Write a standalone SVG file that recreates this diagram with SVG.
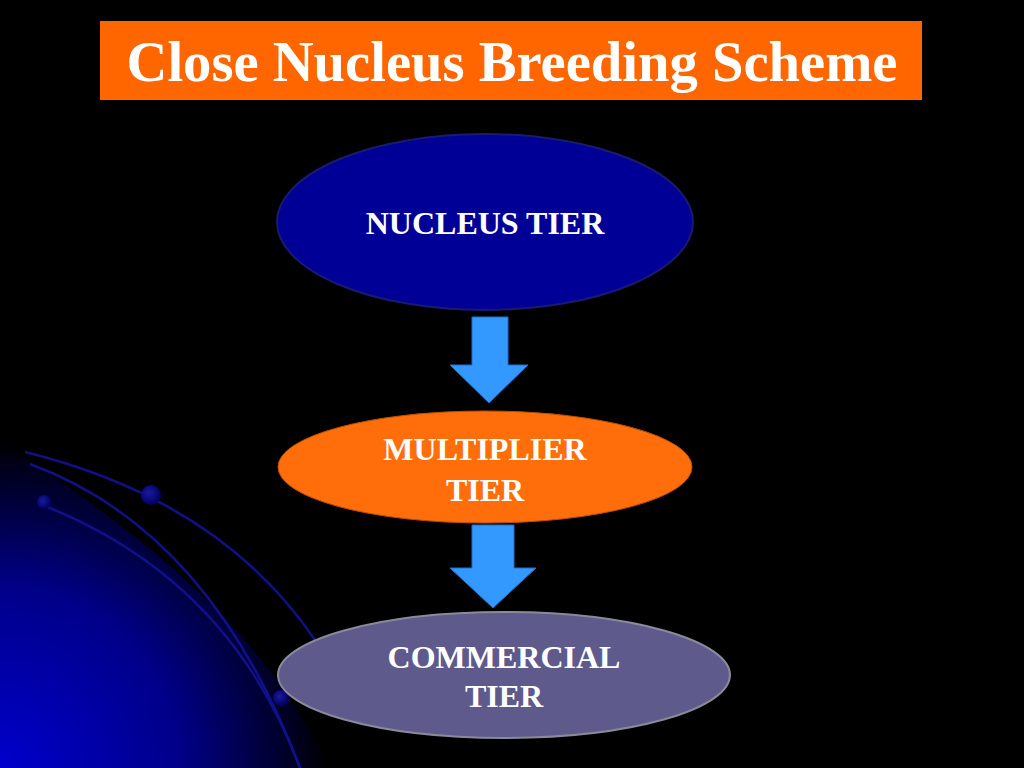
<svg xmlns="http://www.w3.org/2000/svg" width="1024" height="768" viewBox="0 0 1024 768">
<defs>
<radialGradient id="glow" cx="0" cy="768" r="330" gradientUnits="userSpaceOnUse">
<stop offset="0" stop-color="#0000CC"/>
<stop offset="0.55" stop-color="#000088"/>
<stop offset="1" stop-color="#000000"/>
</radialGradient>
<radialGradient id="dot" cx="0.4" cy="0.4" r="0.6">
<stop offset="0" stop-color="#1a1aa0"/>
<stop offset="1" stop-color="#000060"/>
</radialGradient>
<style>
.t{font-family:"Liberation Serif","Times New Roman",serif;font-weight:bold;fill:#fff;text-anchor:middle}
.arc{fill:none;stroke:#10108a;stroke-width:2.5}
.arr{fill:#3399FF;stroke:#1f6fcf;stroke-width:1}
</style>
</defs>
<rect width="1024" height="768" fill="#000"/>
<path d="M0 440 C120 520 260 620 330 768 L0 768 Z" fill="url(#glow)"/>
<g id="decor">
<path class="arc" d="M25 452 Q220 500 315 640"/>
<path class="arc" d="M30 464 Q210 530 300 768"/>
<path class="arc" d="M45 506 Q230 580 300 768"/>
<circle cx="151" cy="495" r="10" fill="url(#dot)"/>
<circle cx="44" cy="502" r="7" fill="url(#dot)"/>
<circle cx="281" cy="698" r="8" fill="url(#dot)"/>
</g>
<g id="title">
<rect x="100" y="21" width="822" height="79" fill="#FF6600"/>
<text class="t" x="512" y="81" font-size="56" textLength="771" lengthAdjust="spacingAndGlyphs">Close Nucleus Breeding Scheme</text>
</g>
<g id="connectors">
<path class="arr" d="M472 317 H508 V365 H528 L489 403 L450 365 H472 Z"/>
<path class="arr" d="M472 525 H514 V568 H536 L493 608 L450 568 H472 Z"/>
</g>
<g id="nucleus">
<ellipse cx="485" cy="222" rx="208" ry="88" fill="#000096" stroke="#1a1a70" stroke-width="2"/>
<text class="t" x="485" y="234" font-size="32">NUCLEUS TIER</text>
</g>
<g id="multiplier">
<ellipse cx="485" cy="467" rx="207" ry="56" fill="#FF6E0A" stroke="#c05000" stroke-width="1"/>
<text class="t" x="485" y="460" font-size="32">MULTIPLIER</text>
<text class="t" x="485" y="501" font-size="32">TIER</text>
</g>
<g id="commercial">
<ellipse cx="504" cy="675" rx="226" ry="63" fill="#5E5A8C" stroke="#8a8a9a" stroke-width="2"/>
<text class="t" x="504" y="668" font-size="32">COMMERCIAL</text>
<text class="t" x="504" y="707" font-size="32">TIER</text>
</g>
</svg>
